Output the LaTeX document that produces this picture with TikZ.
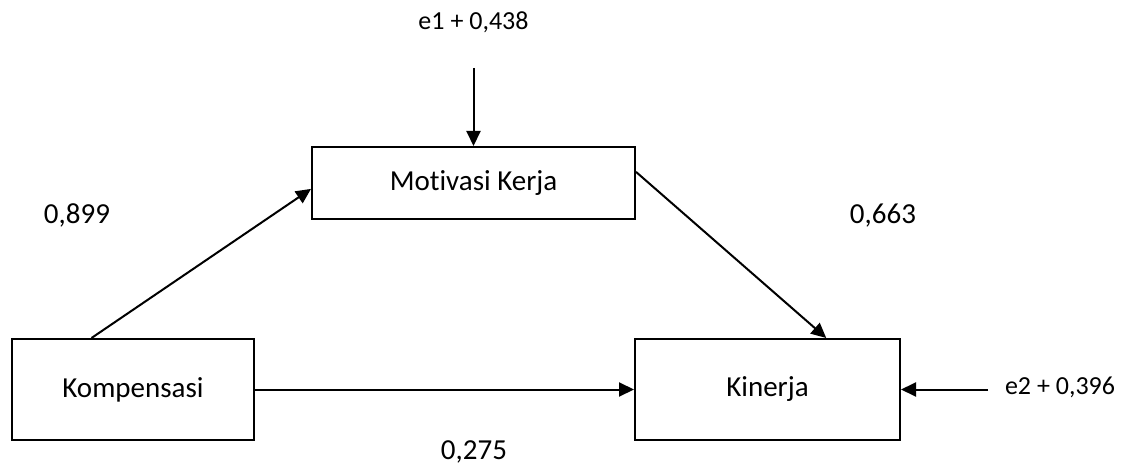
\documentclass[tikz,border=0pt]{standalone}
\usepackage{fontspec}
\setmainfont[Ligatures=NoCommon]{Carlito}
\usetikzlibrary{arrows.meta,calc}
\begin{document}
\begin{tikzpicture}[x=1pt,y=-1pt,
  every node/.style={font=\fontsize{29}{34}\selectfont},
  varbox/.style={draw,line width=2pt,rectangle,inner sep=0pt},
  path/.style={line width=2pt,-{Triangle[length=15pt,width=14pt]}},
  coef/.style={inner sep=0pt},
  errlabel/.style={inner sep=0pt,font=\fontsize{26}{31}\selectfont}]
\useasboundingbox (0,0) rectangle (1127,468);
% variables
\node[varbox,minimum width=242pt,minimum height=101pt] (komp) at (133,389.5) {Kompensasi};
\node[varbox,minimum width=323pt,minimum height=72pt] (motiv) at (473.5,183) {Motivasi Kerja};
\node[varbox,minimum width=265pt,minimum height=101pt] (kin) at (767.5,389.5) {Kinerja};
% error terms
\node[errlabel] (e1) at (473.5,22) {e1 + 0,438};
\node[errlabel] (e2) at (1060,387) {e2 + 0,396};
\coordinate (e1end) at (473.5,68);
\coordinate (e2end) at (988,389.5);
% path coefficients
\node[coef] (c1) at (77,215) {0,899};
\node[coef] (c2) at (883,216) {0,663};
\node[coef] (c3) at (474,452) {0,275};
% paths
\draw[path] ($(komp.north west)!0.33!(komp.north east)$) -- ($(motiv.north west)!0.58!(motiv.south west)$);
\draw[path] ($(motiv.north east)!0.35!(motiv.south east)$) -- ($(kin.north west)!0.72!(kin.north east)$);
\draw[path] (komp.east) -- (kin.west);
\draw[path] (e1end) -- (motiv.north);
\draw[path] (e2end) -- (kin.east);
\end{tikzpicture}
\end{document}
